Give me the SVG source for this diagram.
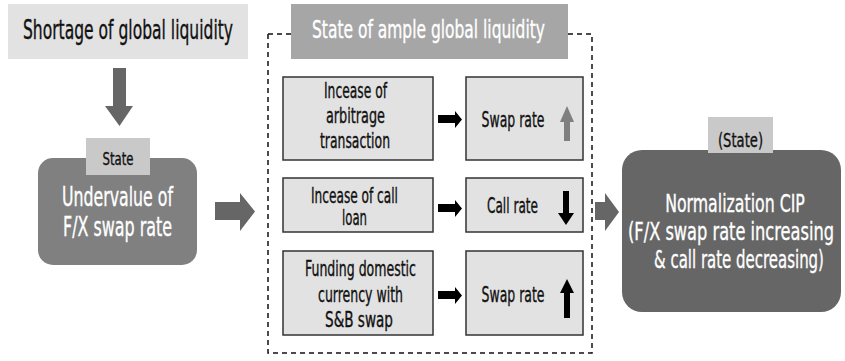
<svg xmlns="http://www.w3.org/2000/svg" width="845" height="361" viewBox="0 0 845 361">
<style>
text{font-family:"DejaVu Sans Condensed","DejaVu Sans","Liberation Sans",sans-serif;font-stretch:condensed;text-anchor:middle;stroke-width:0.35}
.dk{fill:#111;stroke:#111}
.wt{fill:#fff;stroke:#fff}
.box{fill:#e2e2e2;stroke:#333;stroke-width:1.5}
.tab{fill:#c9c9c9}
.big{fill:#666}
.blk{fill:#000}
</style>
<rect width="845" height="361" fill="#fff"/>
<g id="connectors">
<path d="M268,34 V353 H592 V34" fill="none" stroke="#111" stroke-width="1.5" stroke-dasharray="5,4"/>
<path d="M268,34 H291 M568,34 H592" fill="none" stroke="#111" stroke-width="1.5" stroke-dasharray="5,4"/>
<polygon points="113,68 126,68 126,106 133,106 119.5,126 105,106 113,106" fill="#666"/>
<polygon points="215,202 240,202 240,193 255,211.5 240,231 240,220 215,220" fill="#666"/>
<polygon points="595,202 605,202 605,193 619,212 605,231 605,220 595,220" fill="#666"/>
<polygon points="438,115 455,115 455,111 462,119.5 455,128 455,123 438,123" class="blk"/>
<polygon points="438,204 455,204 455,200 462,208.5 455,217 455,212 438,212" class="blk"/>
<polygon points="438,291 455,291 455,287 462,295.5 455,304 455,299 438,299" class="blk"/>
</g>
<g id="n-shortage">
<rect x="8" y="4" width="240" height="55" fill="#e2e2e2"/>
<text x="128" y="39" font-size="26" class="dk" textLength="210" lengthAdjust="spacingAndGlyphs">Shortage of global liquidity</text>
</g>
<g id="n-undervalue">
<rect x="38" y="158" width="159" height="107" rx="15" fill="#808080"/>
<rect x="86" y="138" width="64" height="37" class="tab"/>
<text x="118" y="165" font-size="18" class="dk" textLength="31" lengthAdjust="spacingAndGlyphs">State</text>
<text x="117.5" y="206" font-size="26" class="wt" textLength="111" lengthAdjust="spacingAndGlyphs">Undervalue of</text>
<text x="117.5" y="236" font-size="26" class="wt" textLength="109" lengthAdjust="spacingAndGlyphs">F/X swap rate</text>
</g>
<g id="n-ample">
<rect x="291" y="4" width="277" height="55" fill="#a6a6a6"/>
<text x="428.5" y="38" font-size="25" class="wt" textLength="233" lengthAdjust="spacingAndGlyphs">State of ample global liquidity</text>
</g>
<g id="n-arbitrage">
<rect x="283" y="77" width="150" height="83" class="box"/>
<text x="355.5" y="98" font-size="21" class="dk" textLength="63" lengthAdjust="spacingAndGlyphs">Incease of</text>
<text x="355.5" y="123" font-size="21" class="dk" textLength="59" lengthAdjust="spacingAndGlyphs">arbitrage</text>
<text x="355" y="148" font-size="21" class="dk" textLength="70" lengthAdjust="spacingAndGlyphs">transaction</text>
</g>
<g id="n-swap1">
<rect x="466" y="77" width="117" height="83" class="box"/>
<text x="513" y="127" font-size="21" class="dk" textLength="63" lengthAdjust="spacingAndGlyphs">Swap rate</text>
<polygon points="567,106 574,122 570,122 570,141 564,141 564,122 560,122" fill="#7f7f7f"/>
</g>
<g id="n-callloan">
<rect x="283" y="178" width="150" height="54" class="box"/>
<text x="354.5" y="203" font-size="21" class="dk" textLength="87" lengthAdjust="spacingAndGlyphs">Incease of call</text>
<text x="354.5" y="225" font-size="21" class="dk" textLength="25" lengthAdjust="spacingAndGlyphs">loan</text>
</g>
<g id="n-callrate">
<rect x="466" y="178" width="117" height="54" class="box"/>
<text x="512.5" y="213" font-size="21" class="dk" textLength="51" lengthAdjust="spacingAndGlyphs">Call rate</text>
<polygon points="563,191 569,191 569,213 574,213 566,225 558,213 563,213" class="blk"/>
</g>
<g id="n-funding">
<rect x="283" y="251" width="150" height="84" class="box"/>
<text x="360.5" y="276" font-size="21" class="dk" textLength="111" lengthAdjust="spacingAndGlyphs">Funding domestic</text>
<text x="360.5" y="302" font-size="21" class="dk" textLength="85" lengthAdjust="spacingAndGlyphs">currency with</text>
<text x="359" y="327" font-size="21" class="dk" textLength="68" lengthAdjust="spacingAndGlyphs">S&amp;B swap</text>
</g>
<g id="n-swap3">
<rect x="466" y="251" width="117" height="84" class="box"/>
<text x="513" y="302" font-size="21" class="dk" textLength="63" lengthAdjust="spacingAndGlyphs">Swap rate</text>
<polygon points="567,279 574,293 570,293 570,318 564,318 564,293 560,293" class="blk"/>
</g>
<g id="n-normalization">
<rect x="622" y="150" width="219" height="162" rx="20" class="big"/>
<rect x="708" y="117" width="65" height="36" class="tab"/>
<text x="740.5" y="147" font-size="20" class="dk" textLength="45" lengthAdjust="spacingAndGlyphs">(State)</text>
<text transform="translate(735,212) scale(0.72,1)" x="0" y="0" font-size="25" class="wt" textLength="194" lengthAdjust="spacingAndGlyphs">Normalization CIP</text>
<text transform="translate(731,240) scale(0.72,1)" x="0" y="0" font-size="25" class="wt" textLength="286" lengthAdjust="spacingAndGlyphs">(F/X swap rate increasing</text>
<text transform="translate(739,268) scale(0.72,1)" x="0" y="0" font-size="25" class="wt" textLength="236" lengthAdjust="spacingAndGlyphs">&amp; call rate decreasing)</text>
</g>
</svg>
